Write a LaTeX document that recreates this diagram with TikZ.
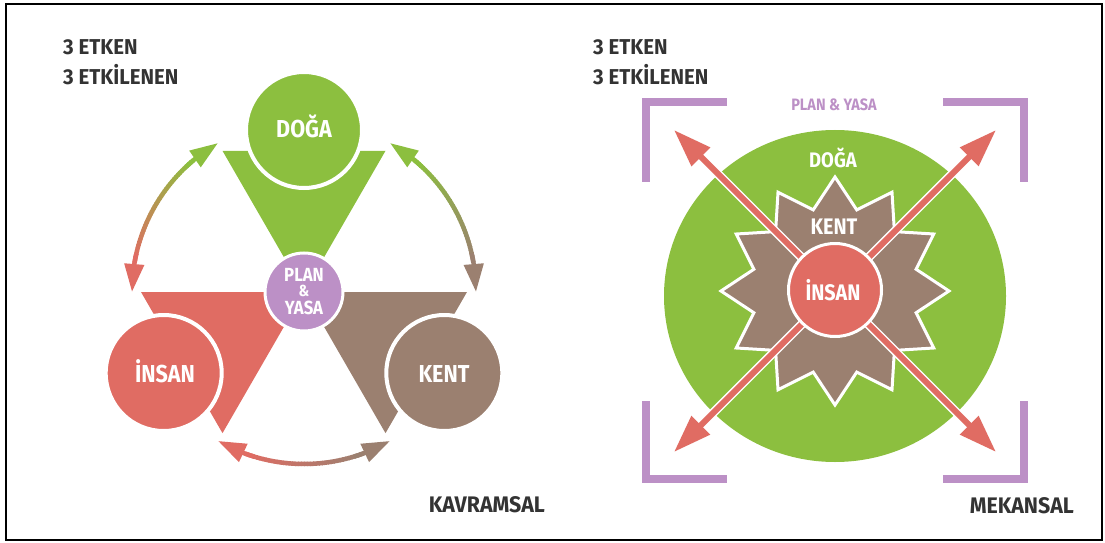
\documentclass[tikz,border=0pt]{standalone}
\usepackage{fontspec}
\newfontfamily\lbl{Fira Sans}[FakeStretch=0.88]
\newfontfamily\hdf{Fira Sans}[FakeStretch=0.95]
\usetikzlibrary{arrows.meta,bending}
\definecolor{cgreen}{HTML}{8CBF3F}
\definecolor{cred}{HTML}{E06C63}
\definecolor{cbrown}{HTML}{9B8070}
\definecolor{cpurple}{HTML}{BC90C6}
\definecolor{ctext}{HTML}{333333}
\newcommand\myarrowarc[4]{%
  \foreach \i in {0,...,39}{%
    \pgfmathsetmacro\aa{#1+10+(#2-#1-20)*\i/40}%
    \pgfmathtruncatemacro\pp{100-100*\i/39}%
    \draw[line width=4.5pt, color=#3!\pp!#4] ([shift={(\aa:172)}]pcc) arc[start angle=\aa, delta angle={(#2-#1-20)/40*1.25}, radius=172];
  }
  \draw[#3, line width=4.5pt, -{Triangle[length=28pt,width=19pt]}] ([shift={({#1+13}:172)}]pcc) arc[start angle={#1+13}, end angle=#1, radius=172];
  \draw[#4, line width=4.5pt, -{Triangle[length=28pt,width=19pt]}] ([shift={({#2-13}:172)}]pcc) arc[start angle={#2-13}, end angle=#2, radius=172];
}
\begin{document}
\begin{tikzpicture}[x=1pt,y=1pt,
  lab/.style={inner sep=0pt, anchor=base},
  head/.style={lab, anchor=base west, text=ctext, font={\hdf\bfseries\fontsize{21.5}{23}\selectfont}},
  foot/.style={lab, anchor=base east, text=ctext, font={\hdf\bfseries\fontsize{22.5}{24}\selectfont}},
  bigl/.style={lab, text=white, font={\lbl\bfseries\fontsize{24.5}{26}\selectfont}},
  planl/.style={lab, text=white, font={\lbl\bfseries\fontsize{19}{20}\selectfont}},
  bigc/.style={circle, minimum size=116pt, inner sep=0pt, draw=white, line width=4pt},
  bracket/.style={cpurple, line width=8.5pt},
  radarrow/.style={cred, line width=6pt, -{Triangle[length=38pt,width=25pt]}},
  radunder/.style={white, line width=9pt, -{Triangle[length=41pt,width=30pt]}}
]
\useasboundingbox (0,0) rectangle (1105,542);
\draw[line width=2.5pt] (6,2) rectangle (1102,538);

% ---------- left: KAVRAMSAL ----------
\coordinate (pcc) at (304,250);
\fill[cgreen] (pcc) -- ([shift={(60:163)}]pcc) -- ([shift={(120:163)}]pcc) -- cycle;
\fill[cred] (pcc) -- ([shift={(180:163)}]pcc) -- ([shift={(240:163)}]pcc) -- cycle;
\fill[cbrown] (pcc) -- ([shift={(300:163)}]pcc) -- ([shift={(360:163)}]pcc) -- cycle;
\node[bigc, fill=cgreen] (doga) at ([shift={(90:162)}]pcc) {};
\node[bigc, fill=cred] (insan) at ([shift={(210:162)}]pcc) {};
\node[bigc, fill=cbrown] (kent) at ([shift={(330:162)}]pcc) {};
\node[circle, minimum size=78pt, inner sep=0pt, draw=white, line width=3pt, fill=cpurple] (plan) at (pcc) {};
\node[bigl] at (304,405) {DOĞA};
\node[bigl] at (165,160) {İNSAN};
\node[bigl] at (444,160) {KENT};
\node[planl] at (304,261) {PLAN};
\node[planl, font={\lbl\bfseries\fontsize{16}{17}\selectfont}] at (304,246) {\&};
\node[planl] at (304,228) {YASA};
\myarrowarc{120}{180}{cgreen}{cred}
\myarrowarc{0}{60}{cbrown}{cgreen}
\myarrowarc{240}{300}{cred}{cbrown}
\node[head] at (63,487) {3 ETKEN};
\node[head] at (63,457) {3 ETKİLENEN};
\node[foot] at (545,30) {KAVRAMSAL};

% ---------- right: MEKANSAL ----------
\coordinate (rc) at (835,251);
\fill[cgreen] (835,246) ellipse [x radius=171, y radius=166];
\filldraw[fill=cbrown, draw=white, line width=3pt, line join=miter] ([shift={(90:114)}]rc)
  \foreach \k in {0,...,11}{ -- ([shift={({105+30*\k}:84)}]rc) -- ([shift={({120+30*\k}:114)}]rc) } -- cycle;
\coordinate (tUR) at (996,412);
\coordinate (tUL) at (674,412);
\coordinate (tLL) at (674,90);
\coordinate (tLR) at (996,90);
\foreach \t in {tUR,tUL,tLL,tLR}{\draw[radunder] (rc) -- (\t);}
\foreach \t in {tUR,tUL,tLL,tLR}{\draw[radarrow] (rc) -- (\t);}
\node[circle, minimum size=93pt, inner sep=0pt, fill=cred, draw=white, line width=3pt] (rinsan) at (835,252) {};
\draw[bracket] (727,440) -- (646,440) -- (646,360);
\draw[bracket] (943,440) -- (1024,440) -- (1024,360);
\draw[bracket] (646,141) -- (646,63) -- (727,63);
\draw[bracket] (1024,141) -- (1024,63) -- (943,63);
\node[lab, text=cpurple, font={\lbl\bfseries\fontsize{16.5}{18}\selectfont}] at (834,431) {PLAN \& YASA};
\node[lab, text=white, font={\lbl\bfseries\fontsize{21}{23}\selectfont}] at (833,374) {DOĞA};
\node[lab, text=white, font={\lbl\bfseries\fontsize{22.5}{24}\selectfont}] at (834,308) {KENT};
\node[lab, text=white, font={\lbl\bfseries\fontsize{22.5}{24}\selectfont}] at (833,242) {İNSAN};
\node[head] at (593,487) {3 ETKEN};
\node[head] at (593,457) {3 ETKİLENEN};
\node[foot] at (1074,29) {MEKANSAL};
\end{tikzpicture}
\end{document}
